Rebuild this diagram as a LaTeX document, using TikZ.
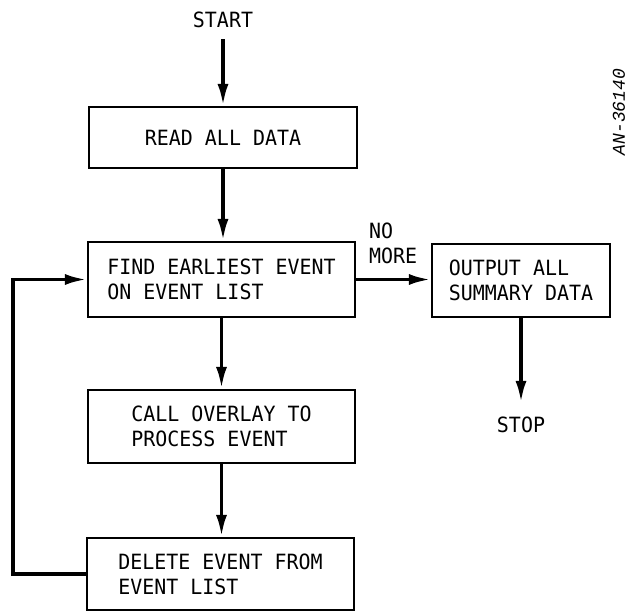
\documentclass[tikz,border=0pt]{standalone}
\usepackage{fontspec}
\setmainfont[FakeStretch=0.95]{DejaVu Sans Mono}
\newfontfamily\idfont{Liberation Mono}
\usetikzlibrary{arrows.meta}
\begin{document}
\begin{tikzpicture}[x=1pt,y=-1pt,
  font=\fontsize{21}{25}\selectfont,
  box/.style={draw,line width=2.2pt,rectangle,inner sep=0pt,align=left},
  arr/.style={line width=3.6pt,line join=miter,-{Latex[length=22pt,width=11pt]}},
  lbl/.style={inner sep=0pt}]
\useasboundingbox (0,0) rectangle (631,612);
\node[lbl] (start) at (223,20) {START};
\node[box,minimum width=268pt,minimum height=61pt] (b1) at (223,137.5) {READ ALL DATA};
\node[box,minimum width=267pt,minimum height=75pt] (b2) at (221.5,279.5) {FIND EARLIEST EVENT\\ON EVENT LIST};
\node[box,minimum width=178pt,minimum height=73pt] (b3) at (521,280.5) {OUTPUT ALL\\SUMMARY DATA};
\node[box,minimum width=267pt,minimum height=73pt] (b4) at (221.5,426.5) {CALL OVERLAY TO\\PROCESS EVENT};
\node[box,minimum width=267pt,minimum height=72pt] (b5) at (220.5,574) {DELETE EVENT FROM\\EVENT LIST};
\node[lbl] (stop) at (521,425) {STOP};
\node[lbl,anchor=west,align=left] (nomore) at (369,243.5) {NO\\MORE};
\node[lbl,rotate=90] (id) at (619,112) {\idfont\itshape\fontsize{18}{20}\selectfont AN-36140};
\coordinate (lx) at (13,0);
\draw[arr,shorten <=11pt] (start.south) -- (b1.north);
\draw[arr] (b1.south) -- (b1.south |- b2.north);
\draw[arr] (b2.east) -- (b2.east -| b3.west);
\draw[arr] (b2.south) -- (b2.south |- b4.north);
\draw[arr] (b4.south) -- (b4.south |- b5.north);
\draw[arr,shorten >=14pt] (b3.south) -- (stop.north);
\draw[arr] (b5.west) -- (b5.west -| lx) |- (b2.west);
\end{tikzpicture}
\end{document}
